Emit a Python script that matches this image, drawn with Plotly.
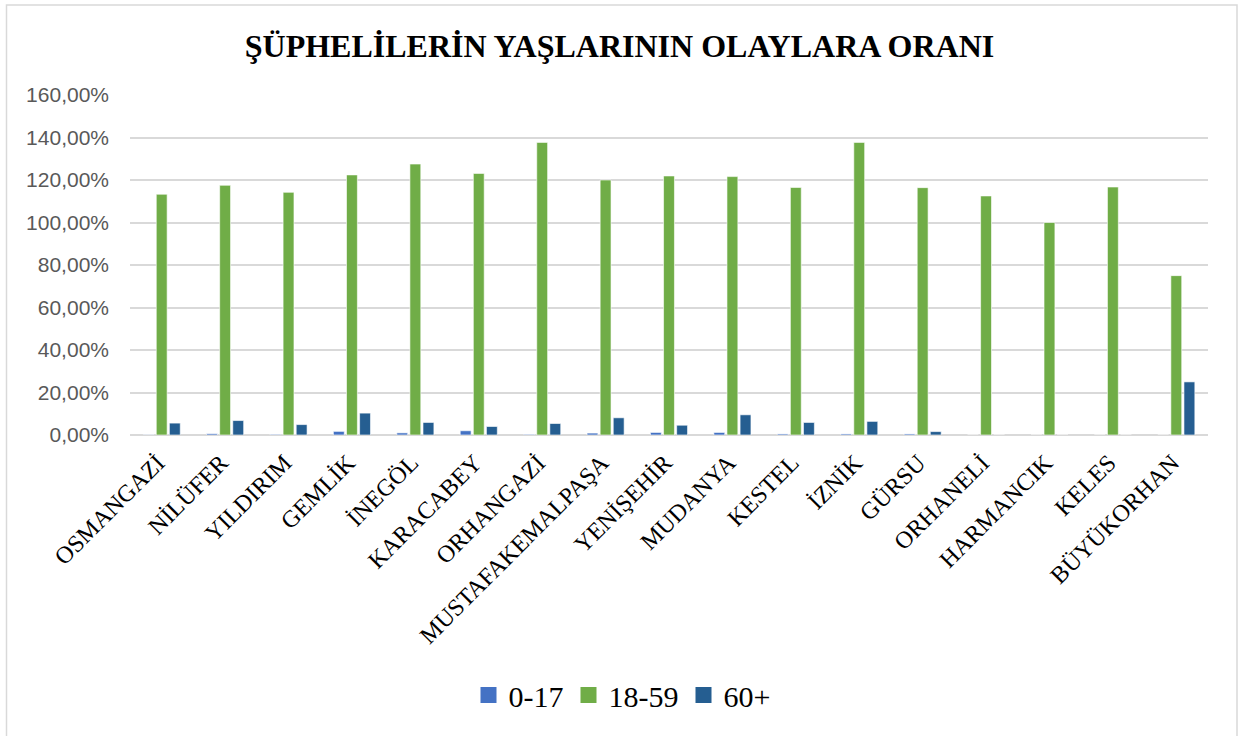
import plotly.graph_objects as go

# -- data
ilceler = ["OSMANGAZİ", "NİLÜFER", "YILDIRIM", "GEMLİK", "İNEGÖL", "KARACABEY", "ORHANGAZİ",
           "MUSTAFAKEMALPAŞA", "YENİŞEHİR", "MUDANYA", "KESTEL", "İZNİK", "GÜRSU", "ORHANELİ",
           "HARMANCIK", "KELES", "BÜYÜKORHAN"]
yas_0_17 = [0.001, 0.006, 0.003, 0.017, 0.010, 0.020, 0.003, 0.009, 0.012, 0.012, 0.005, 0.005,
            0.005, 0.0, 0.0, 0.0, 0.0]
yas_18_59 = [1.133, 1.175, 1.142, 1.224, 1.275, 1.231, 1.377, 1.200, 1.219, 1.216, 1.165, 1.377,
             1.164, 1.125, 1.000, 1.167, 0.750]
yas_60 = [0.056, 0.068, 0.049, 0.103, 0.059, 0.040, 0.054, 0.081, 0.046, 0.095, 0.059, 0.064,
          0.016, 0.0, 0.0, 0.0, 0.250]

seriler = [("0-17", yas_0_17, "#4472C4"), ("18-59", yas_18_59, "#70AD47"), ("60+", yas_60, "#255E91")]

# plot area in pixels (for the border shape)
L, R, T, B = 130, 1208, 95, 435
W, H = 1239, 736

fig = go.Figure()
for ad, degerler, renk in seriler:
    fig.add_trace(go.Bar(x=ilceler, y=degerler, name=ad, showlegend=False,
                         marker=dict(color=renk, line=dict(color="white", width=0.6))))
    # legend entry with a bigger square marker
    fig.add_trace(go.Scatter(x=[None], y=[None], mode="markers", name=ad, showlegend=True,
                             marker=dict(symbol="square", size=20, color=renk)))

fig.update_layout(
    width=W, height=H, autosize=False,
    paper_bgcolor="white", plot_bgcolor="white",
    separators=", ",
    barmode="group", bargap=0.38, bargroupgap=0.17,
    margin=dict(l=L, r=W - R, t=T, b=H - B),
    title=dict(text="<b>ŞÜPHELİLERİN YAŞLARININ OLAYLARA ORANI</b>", x=0.5, xanchor="center",
               y=1 - 46 / H, yanchor="middle",
               font=dict(family="Liberation Serif", size=32, color="black")),
    font=dict(family="Liberation Serif", color="black"),
    legend=dict(orientation="h", x=(622 - L) / (R - L), xanchor="center",
                y=(B - 695) / (B - T), yanchor="middle",
                font=dict(family="Liberation Serif", size=30, color="black"),
                itemsizing="trace", traceorder="normal", itemwidth=30),
)

fig.update_yaxes(range=[0, 1.6], dtick=0.2, tickformat=".2%", showgrid=True,
                 gridcolor="#d9d9d9", gridwidth=1.5, zeroline=True, zerolinecolor="#d9d9d9",
                 zerolinewidth=1.5, showline=False, ticks="", ticklabelstandoff=20,
                 tickfont=dict(family="Liberation Sans", size=21, color="#595959"))
fig.update_xaxes(tickangle=-45, showline=False, ticks="", showgrid=False,
                 ticklabelshift=-4, ticklabelstandoff=8,
                 tickfont=dict(family="Liberation Serif", size=24, color="black"))

# chart border
fig.add_shape(type="rect", xref="paper", yref="paper",
              x0=(6.5 - L) / (R - L), x1=(1237 - L) / (R - L),
              y0=(B - 745) / (B - T), y1=(B - 5) / (B - T),
              line=dict(color="#d9d9d9", width=1.5), fillcolor="rgba(0,0,0,0)", layer="below")

fig.write_html("out.html", post_script="document.body.style.margin='0';",
               config={"displayModeBar": False})
